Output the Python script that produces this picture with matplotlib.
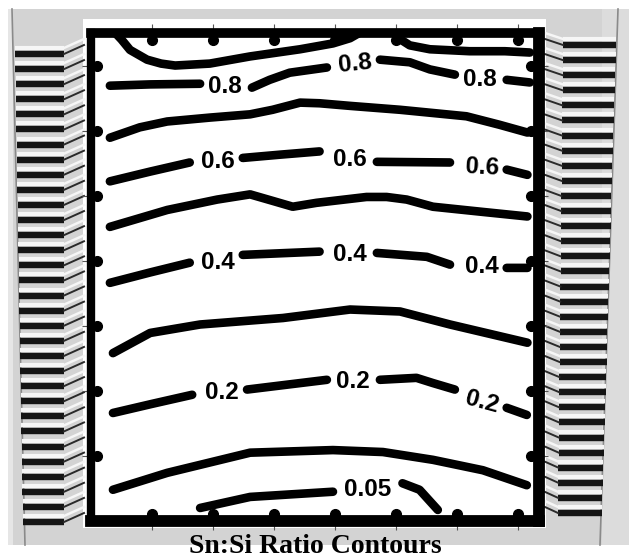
import numpy as np
import matplotlib.pyplot as plt

W, H = 629, 559
DPI = 100

# contour lines, grid units (x: 0..7.35, y: 0..7.5); nan marks a label gap
top_a_x = [0.40, 0.50, 0.64, 0.92, 1.15, 1.38, 1.95, 2.61, 3.43, 3.97, 4.25, 4.40]
top_a_y = [7.50, 7.40, 7.24, 7.09, 7.03, 7.00, 7.03, 7.14, 7.25, 7.34, 7.42, 7.50]
top_b_x = [5.00, 5.08, 5.23, 5.56, 6.21, 6.79, 7.20]
top_b_y = [7.50, 7.40, 7.31, 7.25, 7.22, 7.22, 7.20]

lev08_x = [0.31, 0.97, 1.79, np.nan, 2.64, 2.93, 3.26, 3.87, np.nan, 4.74, 5.23, 5.56, 5.97, np.nan, 6.82, 7.20]
lev08_y = [6.69, 6.71, 6.72, np.nan, 6.66, 6.78, 6.89, 6.97, np.nan, 7.09, 7.05, 6.94, 6.86, np.nan, 6.78, 6.74]

lev07_x = [0.31, 0.80, 1.25, 1.95, 2.61, 2.98, 3.43, 3.75, 4.25, 5.07, 6.16, 6.70, 7.16]
lev07_y = [5.89, 6.05, 6.14, 6.20, 6.25, 6.32, 6.43, 6.42, 6.38, 6.32, 6.22, 6.09, 5.97]

lev06_x = [0.31, 0.97, 1.62, np.nan, 2.49, 3.10, 3.75, np.nan, 4.69, 5.89, np.nan, 6.82, 7.16]
lev06_y = [5.22, 5.37, 5.51, np.nan, 5.58, 5.63, 5.68, np.nan, 5.52, 5.51, np.nan, 5.40, 5.32]

lev05_x = [0.31, 1.25, 2.07, 2.61, 2.98, 3.31, 3.70, 4.52, 4.85, 5.18, 5.61, 6.43, 7.16]
lev05_y = [4.52, 4.78, 4.94, 5.02, 4.92, 4.83, 4.89, 4.98, 4.98, 4.94, 4.83, 4.75, 4.68]

lev04_x = [0.31, 0.97, 1.62, np.nan, 2.49, 3.75, np.nan, 4.69, 5.51, 5.89, np.nan, 6.82, 7.16]
lev04_y = [3.66, 3.82, 3.97, np.nan, 4.09, 4.14, np.nan, 4.12, 4.06, 3.94, np.nan, 3.89, 3.89]

lev03_x = [0.36, 0.97, 1.79, 3.15, 4.25, 5.07, 5.89, 7.16]
lev03_y = [2.58, 2.89, 3.02, 3.12, 3.25, 3.22, 3.02, 2.74]

lev02_x = [0.36, 1.00, 1.66, np.nan, 2.56, 3.87, np.nan, 4.74, 5.34, 5.61, 5.97, np.nan, 6.82, 7.15]
lev02_y = [1.66, 1.80, 1.94, np.nan, 2.02, 2.17, np.nan, 2.17, 2.20, 2.12, 2.02, np.nan, 1.74, 1.63]

lev01_x = [0.36, 1.25, 2.61, 3.97, 4.79, 5.61, 6.43, 7.15]
lev01_y = [0.48, 0.74, 1.05, 1.09, 1.06, 0.94, 0.78, 0.55]

lev005_x = [1.79, 2.61, 3.97, np.nan, 5.11, 5.39, 5.69]
lev005_y = [0.20, 0.37, 0.45, np.nan, 0.58, 0.48, 0.17]

label_text = ["0.8", "0.8", "0.8", "0.6", "0.6", "0.6", "0.4", "0.4", "0.4",
              "0.2", "0.2", "0.2", "0.05"]
label_x = [2.20, 4.33, 6.38, 2.08, 4.25, 6.41, 2.08, 4.25, 6.41, 2.15, 4.30, 6.41, 4.54]
label_y = [6.68, 7.02, 6.78, 5.52, 5.55, 5.43, 3.98, 4.09, 3.91, 1.98, 2.14, 1.83, 0.48]
label_rot = [0, 6, 0, 0, 0, -3, 0, 0, 0, 0, 0, -15, 0]

grid_pos = [1, 2, 3, 4, 5, 6, 7]

fig = plt.figure(figsize=(W / DPI, H / DPI), dpi=DPI)
fig.patch.set_facecolor("white")

# photo background in pixel units
bg = fig.add_axes([0, 0, 1, 1])
bg.set_xlim(0, W)
bg.set_ylim(H, 0)
bg.axis("off")
bg.add_patch(plt.Rectangle((8, 9), W - 8, 536, color="#d3d3d3", lw=0))
bg.add_patch(plt.Rectangle((8, 9), 5, 536, color="#e6e6e6", lw=0))
bg.plot([12, 25], [9, 545], color="#8a8a8a", lw=1.2)
bg.plot([618, 600], [9, 545], color="#8a8a8a", lw=1.2)
bg.add_patch(plt.Rectangle((602, 9), 27, 536, color="#dcdcdc", lw=0))

# comb teeth on both sides
comb_top_l, comb_bot_l = 54, 522
comb_top_r, comb_bot_r = 45, 513
n_teeth = 32
for i in range(n_teeth):
    f = i / (n_teeth - 1)
    y = comb_top_l + f * (comb_bot_l - comb_top_l)
    x0 = 15 + 8 * f
    bg.plot([x0, 64], [y - 6, y - 6], color="#f6f6f6", lw=3.0, solid_capstyle="butt")
    bg.plot([x0, 64], [y, y], color="#151515", lw=4.6, solid_capstyle="butt")
    bg.plot([64, 84], [y, y - 9], color="#2a2a2a", lw=1.4)
    bg.plot([64, 84], [y - 6, y - 15], color="#f6f6f6", lw=1.8)

    y = comb_top_r + f * (comb_bot_r - comb_top_r)
    x1 = 616 - 14 * f
    x0 = 563 - 5 * f
    bg.plot([x0, x1], [y - 6, y - 6], color="#f6f6f6", lw=3.0, solid_capstyle="butt")
    bg.plot([x0, x1], [y, y], color="#151515", lw=4.6, solid_capstyle="butt")
    bg.plot([545, x0], [y - 6, y], color="#2a2a2a", lw=1.4)
    bg.plot([545, x0], [y - 12, y - 6], color="#f6f6f6", lw=1.8)

bg.add_patch(plt.Rectangle((83, 19), 463, 509, color="white", lw=0))

# contour panel
ax = fig.add_axes([91 / W, (H - 521) / H, (539 - 91) / W, (521 - 33) / H])
ax.set_xlim(0, 7.35)
ax.set_ylim(0, 7.5)
ax.set_facecolor("white")
for side, w in [("left", 6.0), ("top", 7.0), ("right", 8.5), ("bottom", 8.5)]:
    ax.spines[side].set_linewidth(w)
    ax.spines[side].set_color("black")
ax.set_xticks(grid_pos)
ax.set_yticks(grid_pos)
ax.tick_params(direction="out", length=6.5, width=0.8, color="#555555",
               top=True, right=True, labelbottom=False, labelleft=False)

dot = dict(marker="o", ms=7, color="black", ls="none", clip_on=False, zorder=5)
ax.plot(grid_pos, [7.5 - 7 / 65] * 7, **dot)
ax.plot(grid_pos, [7 / 65] * 7, **dot)
ax.plot([6 / 61] * 7, grid_pos, **dot)
ax.plot([7.35 - 8 / 61] * 7, grid_pos, **dot)

line = dict(color="black", lw=6.2, solid_capstyle="round", solid_joinstyle="round")
for xs, ys in [(top_a_x, top_a_y), (top_b_x, top_b_y), (lev08_x, lev08_y),
               (lev07_x, lev07_y), (lev06_x, lev06_y), (lev05_x, lev05_y),
               (lev04_x, lev04_y), (lev03_x, lev03_y), (lev02_x, lev02_y),
               (lev01_x, lev01_y), (lev005_x, lev005_y)]:
    ax.plot(xs, ys, **line)

for t, x, y, r in zip(label_text, label_x, label_y, label_rot):
    ax.text(x, y, t, ha="center", va="center", rotation=r, fontsize=17.5,
            fontweight="bold", family="Liberation Sans")

fig.text(315.5 / W, (H - 553) / H, "Sn:Si Ratio Contours", ha="center",
         va="baseline", fontsize=20, fontweight="bold", family="Liberation Serif")

fig.savefig("out.png", dpi=DPI)
